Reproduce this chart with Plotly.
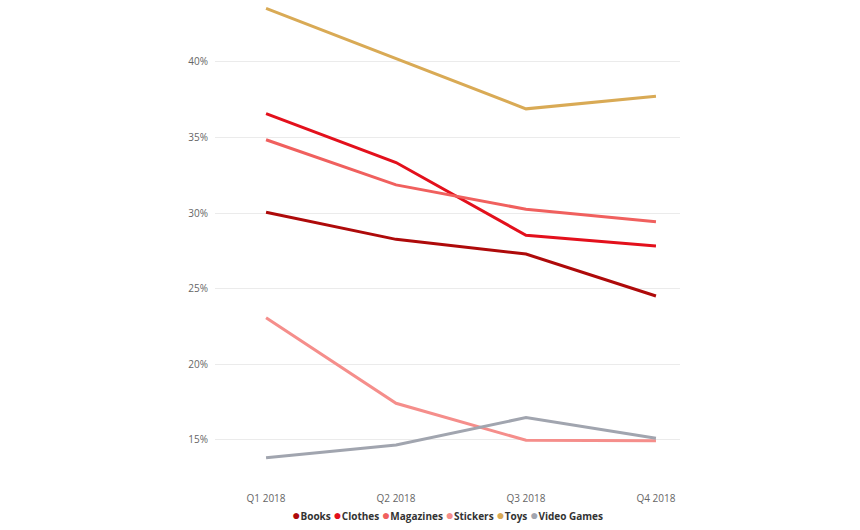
import plotly.graph_objects as go

quarters = ["Q1 2018", "Q2 2018", "Q3 2018", "Q4 2018"]
books = [30.06, 28.27, 27.30, 24.52]
clothes = [36.58, 33.35, 28.54, 27.83]
magazines = [34.86, 31.87, 30.26, 29.44]
stickers = [23.09, 17.43, 14.98, 14.95]
toys = [43.55, 40.24, 36.90, 37.73]
video_games = [13.83, 14.67, 16.48, 15.11]

series_names = ["Books", "Clothes", "Magazines", "Stickers", "Toys", "Video Games"]
series_values = [books, clothes, magazines, stickers, toys, video_games]
colors = ["#AE0A0A", "#E3101C", "#F0605E", "#F58E8B", "#D9AA55", "#A1A5AF"]

y_ticks = [15, 20, 25, 30, 35, 40]
y_tick_text = ["15%", "20%", "25%", "30%", "35%", "40%"]

fig = go.Figure()
for name, vals, col in zip(series_names, series_values, colors):
    fig.add_trace(go.Scatter(
        x=quarters, y=vals, mode="lines", name=name,
        line=dict(color=col, width=3), showlegend=False, cliponaxis=False,
    ))

legend_html = " ".join(
    f"<span style='color:{c};font-size:14px'>●</span><b>{n}</b>" for n, c in zip(series_names, colors)
)
fig.add_annotation(
    x=0.5, y=-0.047, xref="paper", yref="paper", xanchor="center", yanchor="top",
    text=legend_html, showarrow=False,
    font=dict(family="Open Sans, sans-serif", size=10, color="#333333"),
)

fig.update_layout(
    width=860, height=530,
    margin=dict(l=215, r=180, t=0, b=50),
    paper_bgcolor="white", plot_bgcolor="white",
    font=dict(family="Open Sans, sans-serif", size=10, color="#666666"),
    showlegend=False,
    xaxis=dict(
        type="category", range=[-0.393, 3.185], showgrid=False, zeroline=False,
        showline=False, ticks="", ticklabelstandoff=11,
        tickfont=dict(size=10, color="#666666"),
    ),
    yaxis=dict(
        range=[12.354, 44.1], tickvals=y_ticks, ticktext=y_tick_text,
        showgrid=True, gridcolor="#EBEBEB", gridwidth=1, zeroline=False,
        showline=False, ticks="", ticklabelstandoff=6,
        tickfont=dict(size=10, color="#666666"),
    ),
)

fig.write_html("out.html", config={"displayModeBar": False},
               post_script="document.body.style.margin='0';")
